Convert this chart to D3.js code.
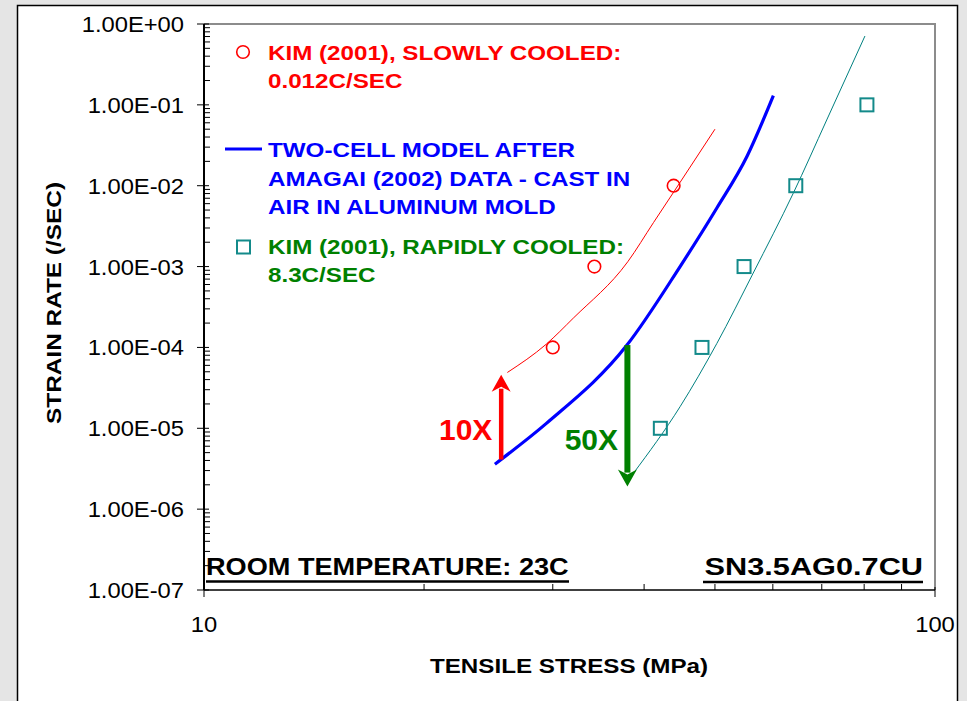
<!DOCTYPE html>
<html lang="en">
<head>
<meta charset="UTF-8">
<title>Strain rate vs tensile stress</title>
<script src="https://d3js.org/d3.v7.min.js"></script>
<style>
  body { margin: 0; background: #e5e5e5; }
  text { font-family: "Liberation Sans", Arial, sans-serif; }
</style>
</head>
<body>
<script>
// Kim (2001) slowly cooled, measured points and fit line
const slowX = [30, 34.2, 43.9];
const slowY = [1e-4, 1e-3, 1e-2];
const slowFitX = [26, 29.4, 32, 38, 41.2, 44.8, 50];
const slowFitY = [4.9e-5, 1.1e-4, 2.3e-4, 1.15e-3, 3.5e-3, 1.1e-2, 0.05];

// two-cell model (Amagai 2002)
const modelX = [25, 29.4, 37.9, 44.8, 50.3, 55.3, 60.1];
const modelY = [3.6e-6, 1.15e-5, 1.07e-4, 1.0e-3, 5.3e-3, 0.023, 0.13];

// Kim (2001) rapidly cooled
const rapidX = [42.1, 48, 54.8, 64.5, 80.7];
const rapidY = [1e-5, 1e-4, 1e-3, 1e-2, 1e-1];
const rapidFitX = [38.7, 44.8, 50.3, 56.4, 64, 71.1, 80.2];
const rapidFitY = [2.8e-6, 1.85e-5, 1.12e-4, 8.3e-4, 8.1e-3, 0.065, 0.71];

// shift arrows
const arrowX = [25.5, 37.95];
const arrowFrom = [4.1e-6, 1.07e-4];
const arrowTo = [4.6e-5, 1.9e-6];
const arrowLabels = ["10X", "50X"];
const labelX = [24.8, 36.85];
const labelY = [7.2e-6, 5.4e-6];

const yTicks = [1e0, 1e-1, 1e-2, 1e-3, 1e-4, 1e-5, 1e-6, 1e-7];
const xTicks = [10, 100];

const width = 967, height = 701;
const svg = d3.select("body").append("svg").attr("width", width).attr("height", height);

svg.append("rect").attr("x", 17.5).attr("y", 5.5).attr("width", 940).attr("height", 720)
    .attr("fill", "#fff").attr("stroke", "#000").attr("stroke-width", 1.5);

const x = d3.scaleLog().domain([10, 100]).range([204, 935]);
const y = d3.scaleLog().domain([1e-7, 1]).range([590, 24]);

// text stretched horizontally like the original export
function wideText(parent, tx, ty, sx, str, anchor) {
  return parent.append("text")
      .attr("transform", `translate(${tx},${ty}) scale(${sx},1)`)
      .attr("text-anchor", anchor || "start").text(str);
}

// plot frame: grey top and right
svg.append("path").attr("d", `M${x(10)},${y(1)}H${x(100)}V${y(1e-7)}`)
    .attr("fill", "none").attr("stroke", "#8c8c8c").attr("stroke-width", 2);

// minor ticks
const yMinor = [];
for (let e = -7; e < 0; e++) for (let m = 2; m <= 9; m++) yMinor.push(m * Math.pow(10, e));
const xMinor = d3.range(20, 100, 10);

svg.append("g").selectAll("line").data(yMinor).join("line")
    .attr("x1", x(10)).attr("x2", x(10) + 6)
    .attr("y1", d => y(d)).attr("y2", d => y(d))
    .attr("stroke", "#000").attr("stroke-width", 1);
svg.append("g").selectAll("line").data(yTicks).join("line")
    .attr("x1", x(10) - 7).attr("x2", x(10) + 5)
    .attr("y1", d => y(d)).attr("y2", d => y(d))
    .attr("stroke", "#000").attr("stroke-width", 1);
svg.append("g").selectAll("line").data(xMinor).join("line")
    .attr("x1", d => x(d)).attr("x2", d => x(d))
    .attr("y1", y(1e-7)).attr("y2", y(1e-7) - 6)
    .attr("stroke", "#000").attr("stroke-width", 1);
svg.append("g").selectAll("line").data(xTicks).join("line")
    .attr("x1", d => x(d)).attr("x2", d => x(d))
    .attr("y1", y(1e-7) - 3).attr("y2", y(1e-7) + 7)
    .attr("stroke", "#000").attr("stroke-width", 1);

// axes lines
svg.append("line").attr("x1", x(10)).attr("x2", x(10)).attr("y1", y(1)).attr("y2", y(1e-7))
    .attr("stroke", "#000").attr("stroke-width", 2);
svg.append("line").attr("x1", x(10)).attr("x2", x(100)).attr("y1", y(1e-7)).attr("y2", y(1e-7))
    .attr("stroke", "#000").attr("stroke-width", 1.5);

const fmt = d => {
  const e = Math.round(Math.log10(d));
  return "1.00E" + (e < 0 ? "-" : "+") + String(Math.abs(e)).padStart(2, "0");
};
const yl = svg.append("g").attr("font-size", 22);
yTicks.forEach(t => wideText(yl, 184, y(t) + 8, 1.08, fmt(t), "end"));
const xl = svg.append("g").attr("font-size", 22);
xTicks.forEach(t => wideText(xl, x(t), 632, 1.08, t, "middle"));

const titles = svg.append("g").attr("font-size", 20).attr("font-weight", "bold");
wideText(titles, 569, 673, 1.21, "TENSILE STRESS (MPa)", "middle");
titles.append("text").attr("transform", "translate(61,303) rotate(-90) scale(1.22,1)")
    .attr("text-anchor", "middle").text("STRAIN RATE (/SEC)");

// curves
const line = d3.line().x(d => x(d[0])).y(d => y(d[1])).curve(d3.curveMonotoneX);
svg.append("path").attr("d", line(d3.zip(slowFitX, slowFitY)))
    .attr("fill", "none").attr("stroke", "#ff0000").attr("stroke-width", 1);
svg.append("path").attr("d", line(d3.zip(modelX, modelY)))
    .attr("fill", "none").attr("stroke", "#0000ff").attr("stroke-width", 3.2);
svg.append("path").attr("d", line(d3.zip(rapidFitX, rapidFitY)))
    .attr("fill", "none").attr("stroke", "#008080").attr("stroke-width", 1);

svg.append("g").selectAll("circle").data(d3.zip(slowX, slowY)).join("circle")
    .attr("cx", d => x(d[0])).attr("cy", d => y(d[1])).attr("r", 6.3)
    .attr("fill", "none").attr("stroke", "#ff0000").attr("stroke-width", 1.6);
svg.append("g").selectAll("rect").data(d3.zip(rapidX, rapidY)).join("rect")
    .attr("x", d => x(d[0]) - 6.5).attr("y", d => y(d[1]) - 6.5).attr("width", 13).attr("height", 13)
    .attr("fill", "none").attr("stroke", "#138a8a").attr("stroke-width", 2);

// arrows
const arrowColors = ["#ff0000", "#008000"];
const shaftW = [4.5, 6];
arrowX.forEach((ax, i) => {
  const px = x(ax), y0 = y(arrowFrom[i]), y1 = y(arrowTo[i]);
  const dir = y1 < y0 ? 1 : -1; // 1 = pointing up
  const hl = 17, hw = 9.5;
  svg.append("line").attr("x1", px).attr("x2", px).attr("y1", y0).attr("y2", y1 + dir * (hl - 3))
      .attr("stroke", arrowColors[i]).attr("stroke-width", shaftW[i]);
  svg.append("path")
      .attr("d", `M${px},${y1}L${px - hw},${y1 + dir * hl}L${px},${y1 + dir * (hl - 5)}L${px + hw},${y1 + dir * hl}Z`)
      .attr("fill", arrowColors[i]);
  svg.append("text").attr("x", x(labelX[i])).attr("y", y(labelY[i])).attr("text-anchor", "end")
      .attr("font-size", 30).attr("font-weight", "bold").attr("fill", arrowColors[i]).text(arrowLabels[i]);
});

// legend
const lg = svg.append("g").attr("font-size", 20.5).attr("font-weight", "bold");
lg.append("circle").attr("cx", 243).attr("cy", 52).attr("r", 6.3)
    .attr("fill", "none").attr("stroke", "#ff0000").attr("stroke-width", 1.6);
lg.append("line").attr("x1", 225).attr("x2", 262).attr("y1", 149).attr("y2", 149)
    .attr("stroke", "#0000ff").attr("stroke-width", 3);
lg.append("rect").attr("x", 237).attr("y", 240.5).attr("width", 13).attr("height", 13)
    .attr("fill", "none").attr("stroke", "#138a8a").attr("stroke-width", 2);
const legendLines = [
  ["KIM (2001), SLOWLY COOLED:", 60, "#ff0000"],
  ["0.012C/SEC", 88, "#ff0000"],
  ["TWO-CELL MODEL AFTER", 157, "#0000ff"],
  ["AMAGAI (2002) DATA - CAST IN", 185.5, "#0000ff"],
  ["AIR IN ALUMINUM MOLD", 213.5, "#0000ff"],
  ["KIM (2001), RAPIDLY COOLED:", 253.5, "#008000"],
  ["8.3C/SEC", 281.5, "#008000"]
];
legendLines.forEach(l => wideText(lg, 268, l[1], 1.18, l[0]).attr("fill", l[2]));

// corner notes
const notes = svg.append("g").attr("font-weight", "bold");
wideText(notes, 206, 575, 1.18, "ROOM TEMPERATURE: 23C").attr("font-size", 23);
notes.append("line").attr("x1", 206).attr("x2", 569).attr("y1", 581.5).attr("y2", 581.5)
    .attr("stroke", "#000").attr("stroke-width", 2.5);
wideText(notes, 923, 575, 1.28, "SN3.5AG0.7CU", "end").attr("font-size", 24);
notes.append("line").attr("x1", 703).attr("x2", 923).attr("y1", 582).attr("y2", 582)
    .attr("stroke", "#000").attr("stroke-width", 2.5);
</script>
</body>
</html>
